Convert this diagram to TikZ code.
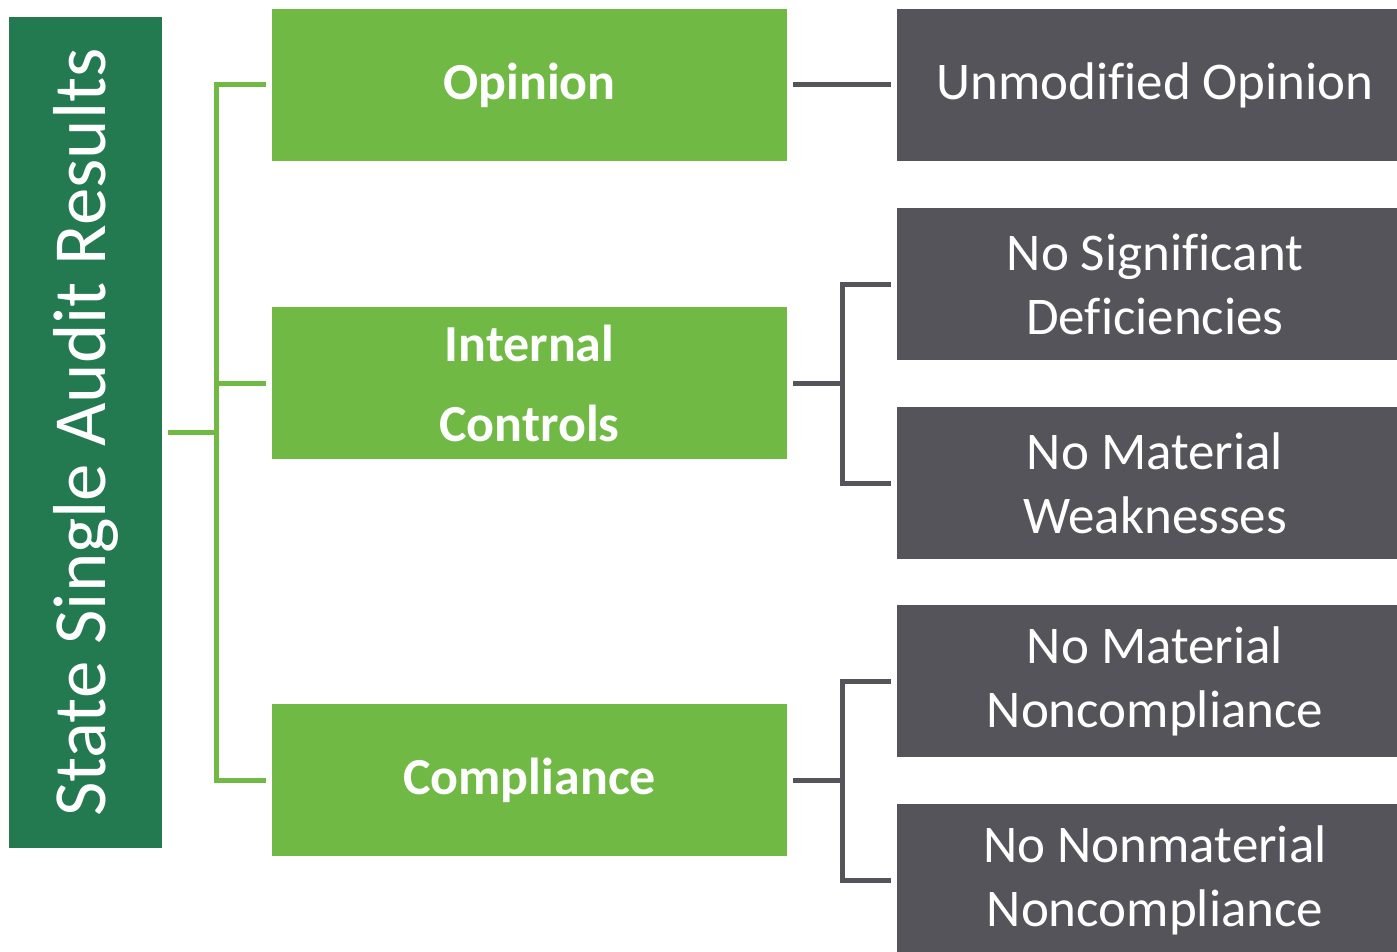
\documentclass[tikz,border=0pt]{standalone}
\usepackage{fontspec}
\setmainfont{Carlito}[Ligatures=NoCommon]
\definecolor{darkgreen}{HTML}{237A50}
\definecolor{leafgreen}{HTML}{70B944}
\definecolor{slate}{HTML}{55545A}
\begin{document}
\begin{tikzpicture}[x=1pt,y=-1pt,
  titlebar/.style={fill=darkgreen, inner sep=0pt, minimum width=153pt, minimum height=831pt,
    text=white, font=\fontsize{75}{90}\selectfont},
  catbox/.style={fill=leafgreen, inner sep=0pt, minimum width=515pt, minimum height=152pt,
    text=white, align=center, font=\bfseries\fontsize{52}{64}\selectfont},
  resbox/.style={fill=slate, inner sep=0pt, minimum width=516pt, minimum height=152pt,
    text=white, align=center, font=\fontsize{53}{64}\selectfont},
  gline/.style={draw=leafgreen, line width=5pt, line join=miter},
  sline/.style={draw=slate, line width=5pt, line join=miter}]
\useasboundingbox (0,0) rectangle (1397,952);

% title bar
\node[titlebar] (bar) at (85.5,432.5) {\rotatebox{90}{State Single Audit Results}};

% categories
\node[catbox] (op)   at (529.5,85)  {Opinion};
\node[catbox, font=\bfseries\fontsize{52}{80}\selectfont] (ic) at (529.5,383) {Internal\\Controls};
\node[catbox] (comp) at (529.5,780) {Compliance};

% results
\node[resbox] (unmod) at (1155,85)    {Unmodified Opinion};
\node[resbox] (nsd)   at (1155,284)   {No Significant\\Deficiencies};
\node[resbox] (nmw)   at (1155,483)   {No Material\\Weaknesses};
\node[resbox] (nmn)   at (1155,681)   {No Material\\Noncompliance};
\node[resbox] (nnn)   at (1155,880)   {No Nonmaterial\\Noncompliance};

% green tree from the title bar
\coordinate (gt) at (216,432.5);
\draw[gline] ([xshift=6pt]bar.east) -- (gt);
\draw[gline] ([xshift=-6pt]op.west) -| (gt) |- ([xshift=-6pt]comp.west);
\draw[gline] (gt |- ic.west) -- ([xshift=-6pt]ic.west);

% grey connectors to results
\draw[sline] ([xshift=6pt]op.east) -- ([xshift=-6pt]unmod.west);

\coordinate (it) at ([xshift=55pt]ic.east);
\draw[sline] ([xshift=6pt]ic.east) -- (it);
\draw[sline] ([xshift=-6pt]nsd.west) -| (it) |- ([xshift=-6pt]nmw.west);

\coordinate (ct) at ([xshift=55pt]comp.east);
\draw[sline] ([xshift=6pt]comp.east) -- (ct);
\draw[sline] ([xshift=-6pt]nmn.west) -| (ct) |- ([xshift=-6pt]nnn.west);
\end{tikzpicture}
\end{document}
